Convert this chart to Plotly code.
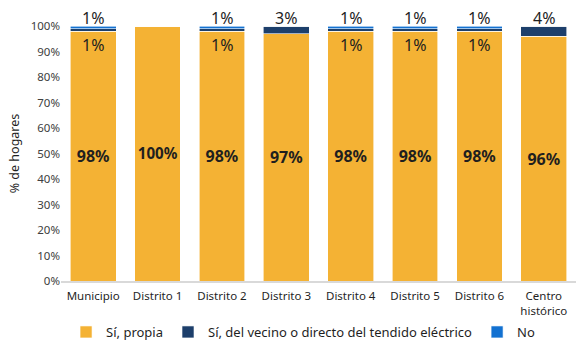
import plotly.graph_objects as go

# datos por zona
zonas = ["Municipio", "Distrito 1", "Distrito 2", "Distrito 3", "Distrito 4",
         "Distrito 5", "Distrito 6", "Centro<br>histórico"]
si_propia = [98, 100, 98, 97, 98, 98, 98, 96]
si_vecino = [1, 0, 1, 3, 1, 1, 1, 4]
no_tiene = [1, 0, 1, 0, 1, 1, 1, 0]

NARANJA = "#F4B234"
AZUL_OSCURO = "#1D3F6B"
AZUL = "#1271D1"
FUENTE = "Noto Sans"
TEXTO = "#1F1F1F"

fig = go.Figure()
fig.add_trace(go.Bar(
    x=zonas, y=si_propia, name="Sí, propia", marker_color=NARANJA,
    text=[f"<b>{v}%</b>" for v in si_propia], textposition="inside", textangle=0,
    insidetextanchor="middle", textfont=dict(size=16, color=TEXTO, family=FUENTE),
    marker_line=dict(color="white", width=0.6),
))
fig.add_trace(go.Bar(
    x=zonas, y=si_vecino, name="Sí, del vecino o directo del tendido eléctrico",
    marker_color=AZUL_OSCURO, marker_line=dict(color="white", width=0.6),
))
fig.add_trace(go.Bar(
    x=zonas, y=no_tiene, name="No", marker_color=AZUL,
    marker_line=dict(color="white", width=0.6),
))

# etiquetas: arriba el "No" (o el vecino si no hay "No"), dentro el vecino
anots = []
for z, v, n in zip(zonas, si_vecino, no_tiene):
    arriba = n if n > 0 else v
    if arriba > 0:
        anots.append(dict(x=z, y=100, yanchor="bottom", yshift=-5, text=f"{arriba}%",
                          showarrow=False, font=dict(size=16, color=TEXTO, family=FUENTE)))
    if n > 0 and v > 0:
        anots.append(dict(x=z, y=100 - n - v, yanchor="top", yshift=-1, text=f"{v}%",
                          showarrow=False, font=dict(size=16, color=TEXTO, family=FUENTE)))

fig.update_layout(
    barmode="stack",
    bargap=0.29,
    width=576, height=340,
    margin=dict(l=61, r=0, t=26, b=59, autoexpand=False),
    plot_bgcolor="white", paper_bgcolor="white",
    font=dict(family=FUENTE, size=11, color="#404040"),
    annotations=anots,
    legend=dict(orientation="h", x=0.47, xanchor="center", y=-0.2, yanchor="middle",
                bgcolor="rgba(0,0,0,0)",
                font=dict(size=13, color=TEXTO), traceorder="normal"),
    yaxis=dict(range=[0, 100], dtick=10, ticksuffix="%", showgrid=False, zeroline=False,
               automargin=False,
               title=dict(text="% de hogares", font=dict(size=12.5, color=TEXTO), standoff=8),
               tickfont=dict(size=11.5, color="#404040")),
    xaxis=dict(showline=True, linecolor="#D9D9D9", linewidth=2, automargin=False,
               ticklabelstandoff=3, tickfont=dict(size=11.5, color=TEXTO)),
)

# sin margen del body para que la figura ocupe toda la ventana
fig.write_html("out.html", config={"displayModeBar": False},
               post_script="document.body.style.margin='0';")
